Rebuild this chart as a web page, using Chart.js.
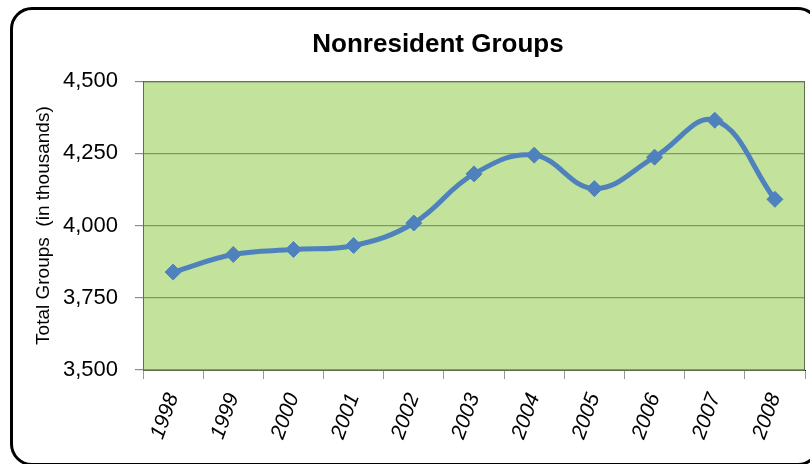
<!DOCTYPE html>
<html>
<head>
<meta charset="utf-8">
<script src="https://cdn.jsdelivr.net/npm/chart.js@4.4.0/dist/chart.umd.min.js"></script>
<style>
  html, body { margin: 0; padding: 0; background: #fff; overflow: hidden; }
  #wrap { position: relative; width: 810px; height: 464px; overflow: hidden; }
  #frame { position: absolute; left: 10px; top: 7px; width: 810px; height: 459px;
           border: 3px solid #000; border-radius: 22px; box-sizing: border-box; }
  #box { position: absolute; left: 0; top: 0; width: 876px; height: 464px; }
</style>
</head>
<body>
<div id="wrap">
  <div id="frame"></div>
  <div id="box"><canvas id="mycanvas"></canvas></div>
</div>
<script>
var years = ['1998', '1999', '2000', '2001', '2002', '2003', '2004', '2005', '2006', '2007', '2008'];
var groups = [3839, 3900, 3917, 3931, 4009, 4179, 4244, 4128, 4237, 4365, 4091];
var yTicks = [3500, 3750, 4000, 4250, 4500];

// green plot area with a thin dark border
var plotBg = {
  id: 'plotBg',
  beforeDraw: function(chart) {
    var a = chart.chartArea, c = chart.ctx;
    c.save();
    c.fillStyle = '#C3E29C';
    c.fillRect(a.left, a.top, a.right - a.left, a.bottom - a.top);
    c.restore();
  },
  afterDatasetsDraw: function(chart) {
    var a = chart.chartArea, c = chart.ctx;
    c.save();
    c.strokeStyle = '#5E6E50';
    c.lineWidth = 1;
    c.strokeRect(a.left + 0.5, a.top + 0.5, a.right - a.left - 1, a.bottom - a.top);
    c.restore();
  }
};

var ctx = document.getElementById('mycanvas');
var LineGraph = new Chart(ctx, {
  type: 'line',
  data: {
    labels: years,
    datasets: [{
      label: 'Nonresident Groups',
      data: groups,
      borderColor: '#4F81BD',
      backgroundColor: '#4F81BD',
      borderWidth: 5,
      tension: 0.4,
      fill: false,
      pointStyle: 'rectRot',
      pointRadius: 8,
      pointHoverRadius: 8,
      pointBackgroundColor: '#4F81BD',
      pointBorderColor: '#4F81BD',
      pointBorderWidth: 1
    }]
  },
  options: {
    responsive: true,
    maintainAspectRatio: false,
    animation: false,
    layout: { padding: 0 },
    plugins: {
      legend: { display: false },
      tooltip: { enabled: false },
      title: {
        display: true,
        text: 'Nonresident Groups',
        color: '#000',
        font: { family: 'Liberation Sans, Arial, sans-serif', size: 26, weight: 'bold', lineHeight: 1.2 },
        padding: { top: 29, bottom: 21 }
      }
    },
    scales: {
      x: {
        offset: true,
        grid: { offset: true, drawOnChartArea: false, drawTicks: true, tickLength: 9, color: '#999' },
        border: { display: true, color: '#000', width: 1 },
        ticks: {
          autoSkip: false,
          minRotation: 70,
          maxRotation: 70,
          padding: 11,
          color: '#000',
          font: { family: 'Liberation Sans, Arial, sans-serif', size: 21, style: 'italic' }
        },
        afterFit: function(scale) { scale.height = 94; }
      },
      y: {
        min: 3500,
        max: 4500,
        afterBuildTicks: function(scale) {
          scale.ticks = yTicks.map(function(v) { return { value: v }; });
        },
        grid: { color: '#7E9A67', lineWidth: 1.2, tickLength: 8, drawTicks: true },
        border: { display: true, color: '#000', width: 1 },
        ticks: {
          padding: 17,
          color: '#000',
          font: { family: 'Liberation Sans, Arial, sans-serif', size: 22 },
          callback: function(v) { return v.toLocaleString('en-US'); }
        },
        title: {
          display: true,
          text: 'Total Groups  (in thousands)',
          color: '#000',
          font: { family: 'Liberation Sans, Arial, sans-serif', size: 19 },
          padding: { top: 32, bottom: 0 }
        },
        afterFit: function(scale) { scale.width = 143; }
      },
      // empty spacer on the right so the title centres like the original
      spacer: {
        type: 'linear',
        position: 'right',
        grid: { display: false },
        border: { display: false },
        ticks: { display: false },
        afterFit: function(scale) { scale.width = 71; }
      }
    }
  },
  plugins: [plotBg]
});
</script>
</body>
</html>
